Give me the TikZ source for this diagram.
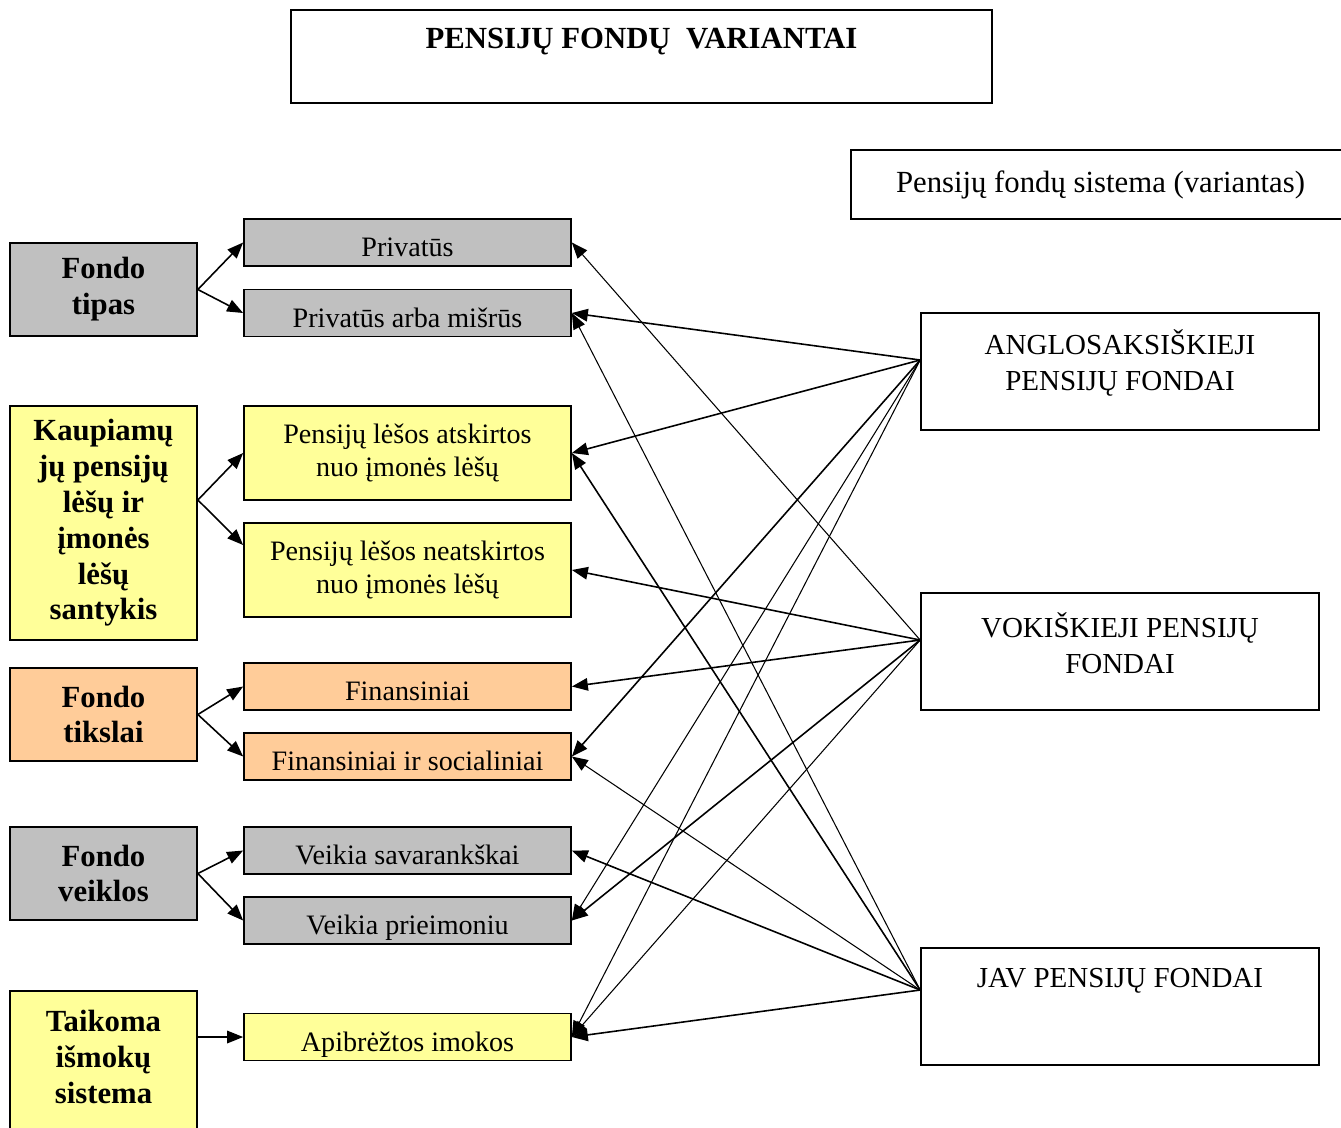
\documentclass[tikz,border=0pt]{standalone}
\usepackage{fontspec}
\setmainfont{Liberation Serif}
\usetikzlibrary{arrows.meta, positioning}

\definecolor{boxgray}{HTML}{C0C0C0}
\definecolor{boxyellow}{HTML}{FFFF99}
\definecolor{boxorange}{HTML}{FFCC99}

\begin{document}
\begin{tikzpicture}[x=0.02cm, y=-0.02cm,
    >={Triangle[length=0.32cm, width=0.25cm]},
    cattxt/.style={inner sep=0pt, align=center, font=\fontsize{17.5}{20.4}\selectfont\bfseries},
    cat/.style={cattxt, draw, line width=1pt, minimum width=3.74cm},
    opt/.style={draw, line width=1pt, inner sep=0pt, minimum width=6.54cm, align=center,
                font=\fontsize{16}{18.7}\selectfont},
    one/.style={opt, minimum height=0.94cm, text height=16pt, text depth=0pt},
    two/.style={opt, minimum height=1.88cm},
    sys/.style={draw, line width=1pt, minimum width=7.96cm, minimum height=2.34cm},
    systxt/.style={align=center, inner sep=0pt, font=\fontsize{16.5}{20.4}\selectfont},
    lightarr/.style={line width=0.6pt}
  ]
    \useasboundingbox (0,0) rectangle (1341,1127);

    % title and legend
    \node[draw, line width=1pt, minimum width=14.02cm, minimum height=1.86cm] (title) at (641.5,56.5) {};
    \node[inner sep=0pt, font=\fontsize{17.5}{20}\selectfont\bfseries] (title-t) at (641.5,42) {PENSIJŲ FONDŲ~ VARIANTAI};
    \node[draw, line width=1pt, minimum width=9.98cm, minimum height=1.38cm,
          font=\fontsize{17.5}{20}\selectfont] (sist) at (1100.5,184.5) {Pensijų fondų sistema (variantas)};

    % criteria
    \node[cat, fill=boxgray, minimum height=1.86cm] (tipas) at (103.5,289.5) {Fondo\\tipas};
    \node[cat, fill=boxyellow, minimum height=4.68cm] (kaup) at (103.5,523) {Kaupiamų\\jų pensijų\\lėšų ir\\įmonės\\lėšų\\santykis};
    \node[cat, fill=boxorange, minimum height=1.86cm] (tiksl) at (103.5,714.5) {Fondo\\tikslai};
    \node[cat, fill=boxgray, minimum height=1.86cm] (veikl) at (103.5,873.5) {Fondo\\veiklos};
    \node[cat, fill=boxyellow, minimum height=2.98cm] (tai) at (103.5,1065.5) {};
    \node[cattxt] (tai-t) at (103.5,1057) {Taikoma\\išmokų\\sistema};

    % options
    \node[one, fill=boxgray] (priv) at (407.5,242.5) {Privatūs};
    \node[one, fill=boxgray] (mix) at (407.5,313) {Privatūs arba mišrūs};
    \node[two, fill=boxyellow] (atsk) at (407.5,453) {Pensijų lėšos atskirtos\\nuo įmonės lėšų};
    \node[two, fill=boxyellow] (neatsk) at (407.5,570) {Pensijų lėšos neatskirtos\\nuo įmonės lėšų};
    \node[one, fill=boxorange] (fin) at (407.5,686.5) {Finansiniai};
    \node[one, fill=boxorange] (finsoc) at (407.5,756.5) {Finansiniai ir socialiniai};
    \node[one, fill=boxgray] (sav) at (407.5,850.5) {Veikia savarankškai};
    \node[one, fill=boxgray] (prie) at (407.5,920.5) {Veikia prieimoniu};
    \node[one, fill=boxyellow] (apibr) at (407.5,1037) {Apibrėžtos imokos};

    % systems
    \node[sys] (anglo) at (1120,371.5) {};
    \node[systxt] (anglo-t) at (1120,363) {ANGLOSAKSIŠKIEJI\\PENSIJŲ FONDAI};
    \node[sys] (vok) at (1120,651.5) {};
    \node[systxt] (vok-t) at (1120,643) {VOKIŠKIEJI PENSIJŲ\\FONDAI};
    \node[sys] (jav) at (1120,1006.5) {};
    \node[systxt] (jav-t) at (1120,981) {JAV PENSIJŲ FONDAI};

    \coordinate (ap) at ([yshift=0.23cm]anglo.west);
    \coordinate (vp) at ([yshift=0.23cm]vok.west);
    \coordinate (jp) at ([yshift=0.33cm]jav.west);
    \coordinate (kp) at ([yshift=0.46cm]kaup.east);
    \coordinate (np) at ([yshift=0.5cm]neatsk.west);

    \path[->, line width=0.9pt]
      (tipas.east) edge (priv.west)
      (tipas.east) edge (mix.west)
      (kp) edge (atsk.west)
      (kp) edge (np)
      (tiksl.east) edge (fin.west)
      (tiksl.east) edge (finsoc.west)
      (veikl.east) edge (sav.west)
      (veikl.east) edge (prie.west)
      (tai.east |- apibr.west) edge (apibr.west);

    \path[->, line width=0.9pt]
      (ap) edge (mix.east)
      (ap) edge (atsk.east)
      (ap) edge (finsoc.east)
      (ap) edge[lightarr] (prie.east)
      (ap) edge[lightarr] (apibr.east)
      (vp) edge[lightarr] (priv.east)
      (vp) edge (neatsk.east)
      (vp) edge (fin.east)
      (vp) edge (prie.east)
      (vp) edge[lightarr] (apibr.east)
      (jp) edge[lightarr] (mix.east)
      (jp) edge (atsk.east)
      (jp) edge[lightarr] (finsoc.east)
      (jp) edge (sav.east)
      (jp) edge (apibr.east);
\end{tikzpicture}
\end{document}
